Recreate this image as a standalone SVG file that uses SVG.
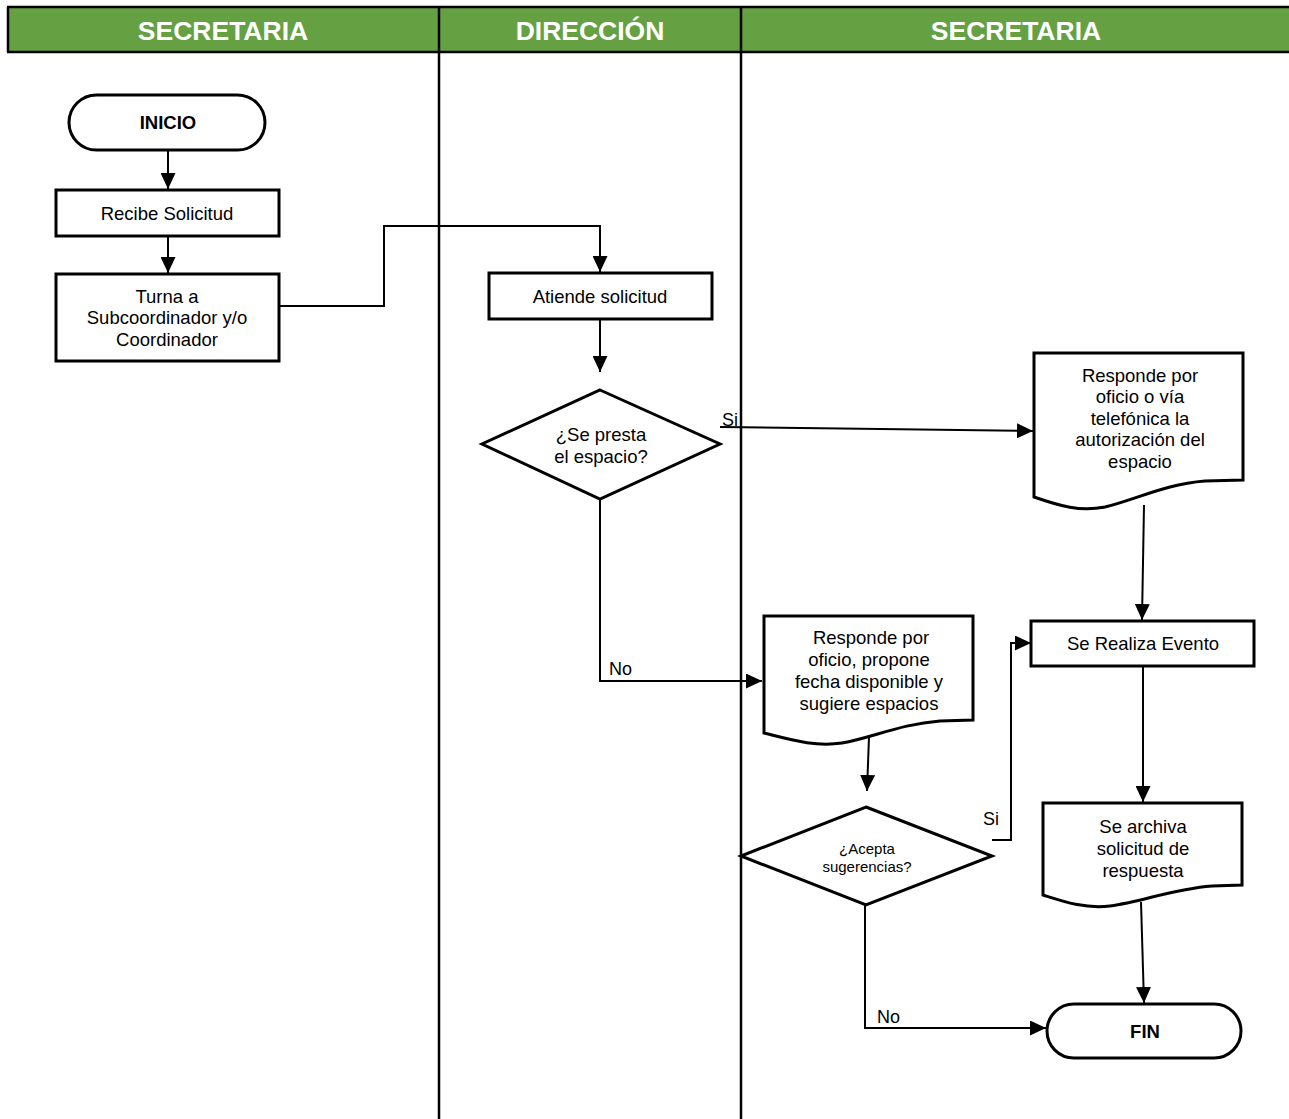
<svg xmlns="http://www.w3.org/2000/svg" width="1289" height="1119" viewBox="0 0 1289 1119">
<style>
.hdr{font-family:"Liberation Sans",Arial,sans-serif;font-weight:bold;font-size:26.5px;fill:#fff;text-anchor:middle}
.t{font-family:"Liberation Sans",Arial,sans-serif;font-size:18.5px;fill:#000;text-anchor:middle}
.b{font-weight:bold}
.s{font-size:15px}
.lbl{font-family:"Liberation Sans",Arial,sans-serif;font-size:18px;fill:#000}
.shape{fill:#fff;stroke:#000;stroke-width:3}
.lane{stroke:#000;stroke-width:2.5;fill:none}
.con{stroke:#000;stroke-width:2;fill:none;marker-end:url(#ah)}
</style>
<defs>
<marker id="ah" markerUnits="userSpaceOnUse" markerWidth="17" markerHeight="15" refX="16" refY="7.5" orient="auto">
<path d="M0,0 L16,7.5 L0,15 Z" fill="#000"/>
</marker>
</defs>
<rect width="1289" height="1119" fill="#fff"/>
<g id="lanes">
<rect x="7" y="7" width="1290" height="45" fill="#65A043"/>
<line class="lane" x1="7" y1="7" x2="1289" y2="7"/>
<line class="lane" x1="7" y1="52" x2="1289" y2="52"/>
<line class="lane" x1="8" y1="7" x2="8" y2="52"/>
<line class="lane" x1="439" y1="7" x2="439" y2="1119"/>
<line class="lane" x1="741" y1="7" x2="741" y2="1119"/>
<text class="hdr" x="223" y="40">SECRETARIA</text>
<text class="hdr" x="590" y="40">DIRECCIÓN</text>
<text class="hdr" x="1016" y="40">SECRETARIA</text>
</g>
<g id="connectors">
<line class="con" x1="168" y1="150" x2="168" y2="189"/>
<line class="con" x1="168" y1="236" x2="168" y2="273"/>
<polyline class="con" points="279,306 384,306 384,226 600,226 600,272"/>
<line class="con" x1="600" y1="319" x2="600" y2="372"/>
<line class="con" x1="720" y1="427" x2="1033" y2="431"/>
<text class="lbl" x="722" y="426">Si</text>
<polyline class="con" points="600,499 600,681 762,681"/>
<text class="lbl" x="609" y="675">No</text>
<line class="con" x1="1144" y1="505" x2="1142" y2="620"/>
<line class="con" x1="1143" y1="666" x2="1143" y2="802"/>
<line class="con" x1="869" y1="737" x2="867" y2="791"/>
<polyline class="con" points="992,840 1011,840 1011,643 1031,643"/>
<text class="lbl" x="983" y="825">Si</text>
<polyline class="con" points="865,904 865,1028 1046,1028"/>
<text class="lbl" x="877" y="1023">No</text>
<line class="con" x1="1141" y1="902" x2="1144" y2="1003"/>
</g>
<g id="inicio">
<rect class="shape" x="69" y="95" width="196" height="55" rx="27.5"/>
<text class="t b" x="168" y="129">INICIO</text>
</g>
<g id="recibe">
<rect class="shape" x="56" y="190" width="223" height="46"/>
<text class="t" x="167" y="220">Recibe Solicitud</text>
</g>
<g id="turna">
<rect class="shape" x="56" y="274" width="223" height="87"/>
<text class="t" x="167" y="303">Turna a</text>
<text class="t" x="167" y="324">Subcoordinador y/o</text>
<text class="t" x="167" y="346">Coordinador</text>
</g>
<g id="atiende">
<rect class="shape" x="489" y="273" width="223" height="46"/>
<text class="t" x="600" y="303">Atiende solicitud</text>
</g>
<g id="decision1">
<polygon class="shape" points="600,390 720,444 600,499 482,444"/>
<text class="t" x="601" y="441">¿Se presta</text>
<text class="t" x="601" y="463">el espacio?</text>
</g>
<g id="responde1">
<path class="shape" d="M1034,353 H1243 V480 L1205,481 C1165,484 1135,500 1105,507 C1080,512 1060,506 1034,497 Z"/>
<text class="t" x="1140" y="382">Responde por</text>
<text class="t" x="1140" y="403">oficio o vía</text>
<text class="t" x="1140" y="425">telefónica la</text>
<text class="t" x="1140" y="446">autorización del</text>
<text class="t" x="1140" y="468">espacio</text>
</g>
<g id="realiza">
<rect class="shape" x="1031" y="621" width="223" height="45"/>
<text class="t" x="1143" y="650">Se Realiza Evento</text>
</g>
<g id="responde2">
<path class="shape" d="M764,616 H973 V720 L940,721 C900,724 872,738 842,743 C815,747 792,740 764,733 Z"/>
<text class="t" x="871" y="644">Responde por</text>
<text class="t" x="869" y="666">oficio, propone</text>
<text class="t" x="869" y="688">fecha disponible y</text>
<text class="t" x="869" y="710">sugiere espacios</text>
</g>
<g id="decision2">
<polygon class="shape" points="866,807 992,856 866,905 741,856"/>
<text class="t s" x="867" y="854">¿Acepta</text>
<text class="t s" x="867" y="872">sugerencias?</text>
</g>
<g id="archiva">
<path class="shape" d="M1043,803 H1242 V885 L1212,886 C1172,889 1142,902 1110,906 C1085,909 1065,902 1043,895 Z"/>
<text class="t" x="1143" y="833">Se archiva</text>
<text class="t" x="1143" y="855">solicitud de</text>
<text class="t" x="1143" y="877">respuesta</text>
</g>
<g id="fin">
<rect class="shape" x="1047" y="1004" width="194" height="54" rx="27"/>
<text class="t b" x="1145" y="1038">FIN</text>
</g>
</svg>
